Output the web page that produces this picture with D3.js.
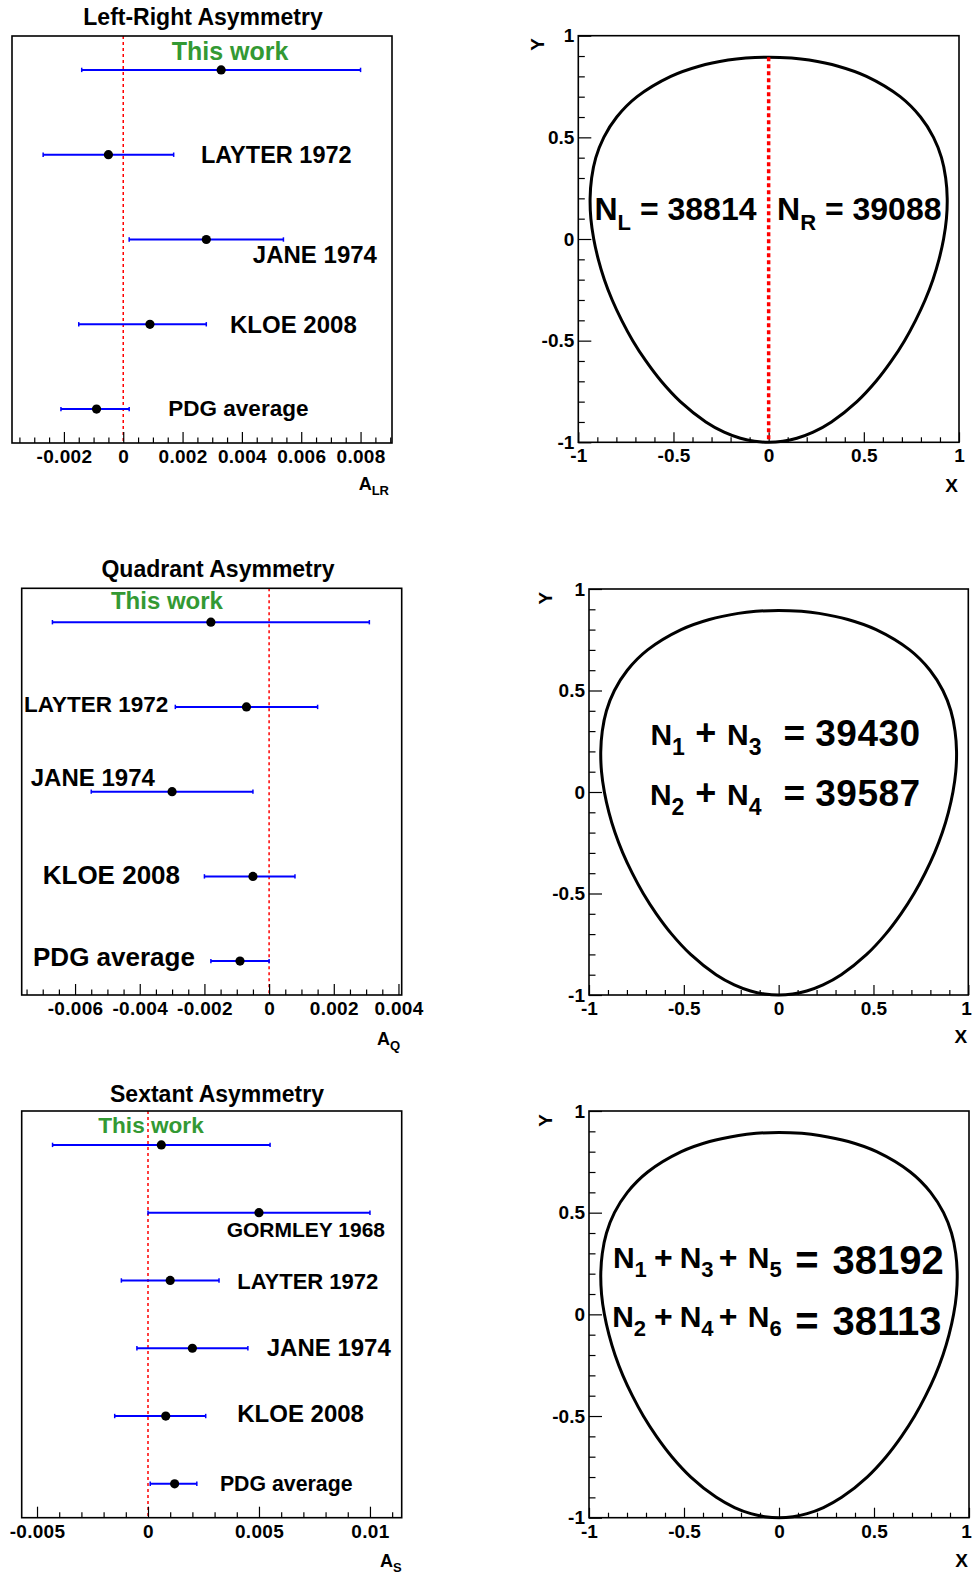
<!DOCTYPE html>
<html><head><meta charset="utf-8">
<script src="https://cdn.jsdelivr.net/npm/d3@7"></script>
<style>
html,body{margin:0;padding:0;background:#fff;}
svg{display:block;}
text{font-family:"Liberation Sans",Arial,Helvetica,sans-serif;font-weight:bold;}
</style></head><body>
<svg id="chart" width="972" height="1575"></svg>
<script>
// ================= DATA =================
// Left-Right asymmetry A_LR
const lrLabels  = ["This work","LAYTER 1972","JANE 1974","KLOE 2008","PDG average"];
const lrCentral = [0.0033,-0.0005,0.0028,0.0009,-0.0009];
const lrLow     = [-0.0014,-0.0027,0.0002,-0.0015,-0.0021];
const lrHigh    = [0.0080,0.0017,0.0054,0.0028,0.0002];
const lrTicks   = [-0.002,0,0.002,0.004,0.006,0.008];

// Quadrant asymmetry A_Q
const qLabels  = ["This work","LAYTER 1972","JANE 1974","KLOE 2008","PDG average"];
const qCentral = [-0.0018,-0.0007,-0.0030,-0.0005,-0.0009];
const qLow     = [-0.0067,-0.0029,-0.0055,-0.0020,-0.0018];
const qHigh    = [0.0031,0.0015,-0.0005,0.0008,0.0000];
const qTicks   = [-0.006,-0.004,-0.002,0,0.002,0.004];

// Sextant asymmetry A_S
const sLabels  = ["This work","GORMLEY 1968","LAYTER 1972","JANE 1974","KLOE 2008","PDG average"];
const sCentral = [0.0006,0.0050,0.0010,0.0020,0.0008,0.0012];
const sLow     = [-0.0043,0.0000,-0.0012,-0.0005,-0.0015,0.0001];
const sHigh    = [0.0055,0.0100,0.0032,0.0045,0.0026,0.0022];
const sTicks   = [-0.005,0,0.005,0.01];

// Dalitz plot boundary (X, Y)
const boundaryX = [0.000,0.074,0.148,0.234,0.330,0.464,0.564,0.645,0.714,0.772,0.822,0.863,0.895,0.919,0.934,0.938,0.930,0.908,0.866,0.798,0.691,0.514,0.365,0.213,0.120,0.000,
                   -0.120,-0.213,-0.365,-0.514,-0.691,-0.798,-0.866,-0.908,-0.930,-0.938,-0.934,-0.919,-0.895,-0.863,-0.822,-0.772,-0.714,-0.645,-0.564,-0.464,-0.330,-0.234,-0.148,-0.074];
const boundaryY = [-1.000,-0.995,-0.980,-0.950,-0.900,-0.800,-0.700,-0.600,-0.500,-0.400,-0.300,-0.200,-0.100,0.000,0.100,0.200,0.300,0.400,0.500,0.600,0.700,0.800,0.850,0.880,0.890,0.8946,
                   0.890,0.880,0.850,0.800,0.700,0.600,0.500,0.400,0.300,0.200,0.100,0.000,-0.100,-0.200,-0.300,-0.400,-0.500,-0.600,-0.700,-0.800,-0.900,-0.950,-0.980,-0.995];
const dalitzTicks = [-1,-0.5,0,0.5,1];

// Event counts
const countsLR = {NL:38814, NR:39088};
const countsQ  = {N13:39430, N24:39587};
const countsS  = {N135:38192, N246:38113};

// ================= LAYOUT =================
const svg = d3.select("#chart");
const FONT = '"Liberation Sans",Arial,Helvetica,sans-serif';
const GREEN = "#339933";

const forestPanels = [
  {title:"Left-Right Asymmetry", titleX:203, titleY:25, axisSub:"LR",
   left:12, right:392, top:36, bottom:443, xDomain:[-0.00375,0.00906], pad:0.4,
   minorStep:0.0005, minorRange:[-0.0035,0.009], majors:lrTicks,
   labels:lrLabels, central:lrCentral, low:lrLow, high:lrHigh,
   titleOff:[-3,47],
   lab:[{x:0.0036,dy:-10,size:25,anchor:"middle"},{x:0.00262,dy:8.7,size:23.5},{x:0.00437,dy:23.4,size:24},{x:0.0036,dy:8.3,size:24},{x:0.00152,dy:6.7,size:22.5}]},
  {title:"Quadrant Asymmetry", titleX:218, titleY:576.7, axisSub:"Q",
   left:21.7, right:401.7, top:588.3, bottom:995, xDomain:[-0.00765,0.0041], pad:0.4,
   minorStep:0.0005, minorRange:[-0.0075,0.004], majors:qTicks,
   labels:qLabels, central:qCentral, low:qLow, high:qHigh,
   titleOff:[-1.5,50],
   lab:[{x:-0.00316,dy:-12.7,size:24,anchor:"middle"},{x:-0.00758,dy:5.4,size:22.5},{x:-0.00737,dy:-5.6,size:24},{x:-0.0070,dy:7.7,size:26},{x:-0.0073,dy:4.7,size:26}]},
  {title:"Sextant Asymmetry", titleX:217, titleY:1102.3, axisSub:"S",
   left:21.7, right:401.7, top:1111, bottom:1517.7, xDomain:[-0.00569,0.01143], pad:0.5,
   minorStep:0.001, minorRange:[-0.005,0.011], majors:sTicks,
   labels:sLabels, central:sCentral, low:sLow, high:sHigh,
   titleOff:[0,49],
   lab:[{x:0.000135,dy:-12,size:22.6,anchor:"middle"},{x:0.003545,dy:24.7,size:21},{x:0.00402,dy:8.3,size:22},{x:0.00535,dy:7.3,size:24},{x:0.00402,dy:6,size:24},{x:0.00324,dy:7.4,size:21.3}]}
];

function fmtSmall(d){ return d === 0 ? "0" : String(+d.toFixed(4)); }

function drawForest(p){
  const g = svg.append("g");
  const n = p.labels.length;
  const x = d3.scaleLinear().domain(p.xDomain).range([p.left,p.right]);
  const y = d3.scaleLinear().domain([1-p.pad, n+p.pad]).range([p.bottom,p.top]);
  const rowVal = i => n - i;

  g.append("text").attr("x",p.titleX).attr("y",p.titleY).attr("text-anchor","middle")
    .attr("font-size",23).attr("fill","#000").text(p.title);

  g.append("line").attr("x1",x(0)).attr("x2",x(0)).attr("y1",p.top).attr("y2",p.bottom)
    .attr("stroke","#ff0000").attr("stroke-width",1.5).attr("stroke-dasharray","3,3");

  const minors = d3.range(Math.round(p.minorRange[0]/p.minorStep), Math.round(p.minorRange[1]/p.minorStep)+1)
    .map(k => +(k*p.minorStep).toFixed(6))
    .filter(v => !p.majors.some(m => Math.abs(m-v)<1e-9));
  const minorAxis = d3.axisBottom(x).tickValues(minors).tickSizeInner(-5.5).tickSizeOuter(0).tickFormat("");
  const gm = g.append("g").attr("transform",`translate(0,${p.bottom})`).call(minorAxis);
  gm.select(".domain").remove();
  gm.selectAll("line").attr("stroke","#000").attr("stroke-width",1.2);

  const majorAxis = d3.axisBottom(x).tickValues(p.majors).tickSizeInner(-11).tickSizeOuter(0)
    .tickPadding(6.5).tickFormat(fmtSmall);
  const ga = g.append("g").attr("transform",`translate(0,${p.bottom})`).call(majorAxis);
  ga.select(".domain").remove();
  ga.selectAll("line").attr("stroke","#000").attr("stroke-width",1.2);
  ga.attr("font-family",null).attr("font-size",null);
  ga.selectAll("text").attr("font-size",19).attr("fill","#000").attr("letter-spacing",0.3)
    .style("font-family",FONT).style("font-weight","bold");

  g.append("rect").attr("x",p.left).attr("y",p.top).attr("width",p.right-p.left).attr("height",p.bottom-p.top)
    .attr("fill","none").attr("stroke","#000").attr("stroke-width",1.6);

  const at = g.append("text").attr("x",p.right+p.titleOff[0]).attr("y",p.bottom+p.titleOff[1])
    .attr("text-anchor","end").attr("fill","#000");
  at.append("tspan").attr("font-size",18).text("A");
  at.append("tspan").attr("font-size",13).attr("dy",5).text(p.axisSub);

  const idx = d3.range(n);
  g.selectAll(".err").data(idx).enter().append("line")
    .attr("x1",i=>x(p.low[i])).attr("x2",i=>x(p.high[i]))
    .attr("y1",i=>y(rowVal(i))).attr("y2",i=>y(rowVal(i)))
    .attr("stroke","#0000ff").attr("stroke-width",2);
  [p.low,p.high].forEach(arr=>{
    g.selectAll(null).data(idx).enter().append("line")
      .attr("x1",i=>x(arr[i])).attr("x2",i=>x(arr[i]))
      .attr("y1",i=>y(rowVal(i))-2.2).attr("y2",i=>y(rowVal(i))+2.2)
      .attr("stroke","#0000ff").attr("stroke-width",1.5);
  });
  g.selectAll(".pt").data(idx).enter().append("circle")
    .attr("cx",i=>x(p.central[i])).attr("cy",i=>y(rowVal(i))).attr("r",4.6).attr("fill","#000");

  g.selectAll(".lab").data(idx).enter().append("text")
    .attr("x",i=>x(p.lab[i].x)).attr("y",i=>y(rowVal(i))+p.lab[i].dy)
    .attr("text-anchor",i=>p.lab[i].anchor||"start")
    .attr("font-size",i=>p.lab[i].size)
    .attr("fill",i=>i===0?GREEN:"#000")
    .text(i=>p.labels[i]);
}
forestPanels.forEach(drawForest);

// ---------- Dalitz panels ----------
const dalitzPanels = [
  {left:578.3, right:959, top:35.7, bottom:442.3, redLine:true, yTitle:[-34.6,2.3], xTitleDy:49.4,
   ann:[
     {y:0.093, parts:[{x:-0.915,t:"N",s:32},{t:"L",s:22,sub:10},{t:" = "+countsLR.NL,s:32}]},
     {y:0.093, parts:[{x:0.044,t:"N",s:32},{t:"R",s:22,sub:10},{t:" = "+countsLR.NR,s:32}]}
   ]},
  {left:589, right:968.3, top:589, bottom:995, redLine:false, yTitle:[-37.3,2.7], xTitleDy:48.3,
   ann:[
     {y:0.2315, parts:[{x:-0.676,t:"N",s:30},{t:"1",s:23,sub:10},{x:-0.440,t:"+",s:36},{x:-0.272,t:"N",s:30},{t:"3",s:23,sub:10},{x:0.026,t:"=",s:37,dy:1},{x:0.193,t:String(countsQ.N13),s:37,dy:1,ls:0.5}]},
     {y:-0.064, parts:[{x:-0.679,t:"N",s:30},{t:"2",s:23,sub:10},{x:-0.440,t:"+",s:36},{x:-0.272,t:"N",s:30},{t:"4",s:23,sub:10},{x:0.026,t:"=",s:37,dy:1},{x:0.193,t:String(countsQ.N24),s:37,dy:1,ls:0.5}]}
   ]},
  {left:589, right:969, top:1111, bottom:1517.7, redLine:false, yTitle:[-37.3,3], xTitleDy:49.6,
   ann:[
     {y:0.227, parts:[{x:-0.874,t:"N",s:30},{t:"1",s:22,sub:8.5},{x:-0.658,t:"+",s:32},{x:-0.523,t:"N",s:30},{t:"3",s:22,sub:8.5},{x:-0.317,t:"+",s:32},{x:-0.164,t:"N",s:30},{t:"5",s:22,sub:8.5},{x:0.085,t:"=",s:40,dy:6},{x:0.282,t:String(countsS.N135),s:40,dy:6}]},
     {y:-0.064, parts:[{x:-0.878,t:"N",s:30},{t:"2",s:22,sub:8.5},{x:-0.658,t:"+",s:32},{x:-0.523,t:"N",s:30},{t:"4",s:22,sub:8.5},{x:-0.317,t:"+",s:32},{x:-0.164,t:"N",s:30},{t:"6",s:22,sub:8.5},{x:0.085,t:"=",s:40,dy:7.7},{x:0.282,t:String(countsS.N246),s:40,dy:7.7}]}
   ]}
];

function drawDalitz(p){
  const g = svg.append("g");
  const x = d3.scaleLinear().domain([-1,1]).range([p.left,p.right]);
  const y = d3.scaleLinear().domain([-1,1]).range([p.bottom,p.top]);
  const fmt = d => String(d);
  const minorVals = d3.range(-10,11).map(k=>k/10).filter(v=>!dalitzTicks.some(m=>Math.abs(m-v)<1e-9));

  const gyMin = g.append("g").attr("transform",`translate(${p.left},0)`)
    .call(d3.axisLeft(y).tickValues(minorVals).tickSizeInner(-6.5).tickSizeOuter(0).tickFormat(""));
  gyMin.select(".domain").remove();
  const gy = g.append("g").attr("transform",`translate(${p.left},0)`)
    .call(d3.axisLeft(y).tickValues(dalitzTicks).tickSizeInner(-13).tickSizeOuter(0).tickPadding(4).tickFormat(fmt));
  gy.select(".domain").remove();
  const gxMin = g.append("g").attr("transform",`translate(0,${p.bottom})`)
    .call(d3.axisBottom(x).tickValues(minorVals).tickSizeInner(-5).tickSizeOuter(0).tickFormat(""));
  gxMin.select(".domain").remove();
  const gx = g.append("g").attr("transform",`translate(0,${p.bottom})`)
    .call(d3.axisBottom(x).tickValues(dalitzTicks).tickSizeInner(-10).tickSizeOuter(0).tickPadding(6.5).tickFormat(fmt));
  gx.select(".domain").remove();
  [gyMin,gy,gxMin,gx].forEach(a=>{
    a.attr("font-family",null).attr("font-size",null);
    a.selectAll("line").attr("stroke","#000").attr("stroke-width",1.2);
    a.selectAll("text").attr("font-size",19).attr("fill","#000").style("font-family",FONT).style("font-weight","bold");
  });
  // keep the right-most x label inside the page
  gx.selectAll("text").filter(d=>d===1).attr("dx",Math.min(0, 966 - p.right));

  g.append("rect").attr("x",p.left).attr("y",p.top).attr("width",p.right-p.left).attr("height",p.bottom-p.top)
    .attr("fill","none").attr("stroke","#000").attr("stroke-width",1.6);

  g.append("text").attr("x",p.right-1).attr("y",p.bottom+p.xTitleDy).attr("text-anchor","end")
    .attr("font-size",19).attr("fill","#000").text("X");
  g.append("text").attr("transform",`translate(${p.left+p.yTitle[0]},${p.top+p.yTitle[1]}) rotate(-90)`)
    .attr("text-anchor","end").attr("font-size",19).attr("fill","#000").text("Y");

  const pts = boundaryX.map((v,i)=>[v,boundaryY[i]]);
  const line = d3.line().x(d=>x(d[0])).y(d=>y(d[1])).curve(d3.curveCatmullRomClosed.alpha(0.5));
  g.append("path").attr("d",line(pts)).attr("fill","none").attr("stroke","#000").attr("stroke-width",3);

  if(p.redLine){
    g.append("line").attr("x1",x(0)).attr("x2",x(0))
      .attr("y1",y(d3.max(boundaryY))).attr("y2",y(d3.min(boundaryY)))
      .attr("stroke","#ff0000").attr("stroke-width",3.5).attr("stroke-dasharray","4,3");
  }

  p.ann.forEach(a=>{
    const t = g.append("text").attr("x",x(a.parts[0].x)).attr("y",y(a.y)).attr("fill","#000");
    let shift = 0;
    a.parts.forEach(pt=>{
      const target = (pt.sub||0) + (pt.dy||0);
      const ts = t.append("tspan").attr("font-size",pt.s).text(pt.t);
      if(pt.x!==undefined) ts.attr("x",x(pt.x));
      if(target!==shift){ ts.attr("dy",target-shift); shift = target; }
      if(pt.ls) ts.attr("letter-spacing",pt.ls);
    });
  });
}
dalitzPanels.forEach(drawDalitz);
</script>
</body></html>
